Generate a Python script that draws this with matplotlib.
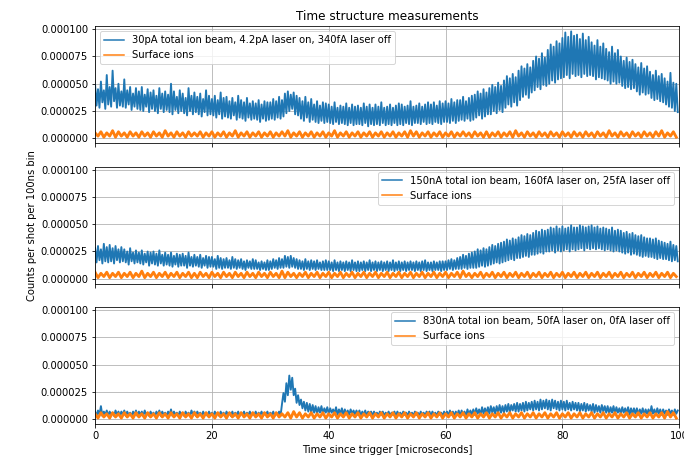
import numpy as np
import matplotlib
matplotlib.use("Agg")
import matplotlib.pyplot as plt
from matplotlib.ticker import FormatStrFormatter

# bin times in microseconds
time_beam = np.arange(400) * 0.25
time_surf = np.arange(200) * 0.5

# counts per shot per bin, in units of 1e-6
top_beam = [
    49, 30, 45, 28, 52, 33, 44, 27, 58, 31,
    47, 29, 62, 34, 46, 28, 50, 30, 43, 29,
    54, 28, 44, 31, 47, 26, 41, 29, 46, 27,
    43, 26, 47, 25, 40, 29, 45, 24, 42, 27,
    44, 25, 39, 23, 46, 27, 41, 24, 43, 26,
    40, 24, 50, 22, 43, 26, 38, 23, 44, 25,
    41, 23, 37, 21, 46, 25, 39, 22, 42, 24,
    38, 22, 41, 20, 36, 24, 44, 21, 39, 22,
    36, 21, 39, 19, 35, 22, 42, 18, 37, 20,
    38, 19, 34, 18, 37, 21, 33, 17, 39, 19,
    35, 18, 33, 16, 37, 19, 32, 17, 34, 18,
    32, 17, 35, 15, 31, 18, 34, 16, 33, 17,
    33, 18, 36, 17, 34, 19, 38, 18, 35, 20,
    41, 23, 43, 25, 40, 27, 42, 22, 39, 21,
    37, 18, 34, 16, 38, 19, 33, 15, 36, 17,
    31, 15, 34, 14, 30, 16, 33, 14, 32, 15,
    31, 14, 29, 13, 33, 15, 28, 13, 30, 14,
    29, 13, 32, 12, 28, 14, 31, 12, 29, 13,
    30, 13, 28, 12, 32, 14, 29, 11, 31, 13,
    28, 12, 31, 13, 29, 12, 33, 14, 28, 12,
    29, 13, 31, 12, 28, 14, 30, 12, 32, 13,
    31, 12, 29, 14, 30, 13, 34, 12, 29, 14,
    30, 14, 32, 13, 29, 15, 31, 13, 33, 14,
    31, 13, 33, 15, 30, 14, 34, 13, 32, 15,
    34, 15, 32, 14, 36, 16, 33, 14, 35, 16,
    35, 17, 38, 16, 34, 18, 37, 16, 39, 17,
    40, 19, 43, 21, 41, 18, 45, 20, 42, 22,
    46, 22, 49, 25, 47, 23, 51, 26, 48, 24,
    53, 28, 57, 31, 55, 29, 59, 33, 56, 30,
    62, 35, 66, 38, 64, 40, 68, 37, 65, 42,
    71, 44, 75, 47, 73, 45, 78, 49, 74, 48,
    81, 50, 86, 53, 84, 51, 89, 54, 87, 55,
    92, 56, 97, 58, 93, 55, 98, 59, 94, 57,
    95, 58, 91, 56, 96, 59, 90, 57, 93, 58,
    88, 57, 85, 54, 90, 56, 84, 55, 87, 54,
    82, 53, 79, 50, 84, 52, 78, 50, 81, 51,
    75, 48, 71, 46, 74, 47, 70, 45, 72, 46,
    68, 43, 65, 40, 69, 42, 64, 40, 66, 41,
    61, 37, 58, 35, 62, 36, 57, 34, 59, 33,
    55, 31, 52, 29, 60, 28, 51, 25, 50, 24,
]
mid_beam = [
    28, 15, 30, 17, 27, 14, 32, 16, 29, 15,
    31, 16, 28, 14, 30, 17, 27, 15, 29, 16,
    27, 15, 25, 13, 28, 16, 24, 14, 26, 15,
    24, 14, 26, 13, 23, 15, 25, 12, 24, 14,
    25, 13, 23, 12, 26, 14, 22, 12, 24, 13,
    22, 12, 24, 11, 21, 13, 23, 11, 22, 12,
    23, 12, 21, 10, 24, 12, 20, 11, 22, 12,
    20, 11, 22, 10, 19, 12, 21, 10, 20, 11,
    20, 11, 18, 9, 21, 10, 19, 9, 18, 10,
    19, 10, 17, 9, 20, 10, 18, 9, 17, 10,
    18, 9, 16, 8, 17, 10, 16, 9, 18, 9,
    17, 9, 15, 8, 16, 9, 15, 8, 17, 8,
    16, 9, 18, 10, 17, 9, 19, 10, 18, 10,
    21, 11, 20, 10, 21, 11, 19, 10, 18, 9,
    17, 9, 16, 8, 18, 9, 16, 8, 17, 9,
    16, 8, 17, 9, 15, 8, 16, 8, 17, 8,
    16, 8, 15, 7, 17, 8, 15, 7, 16, 8,
    15, 7, 16, 8, 15, 7, 17, 8, 15, 7,
    16, 7, 15, 8, 16, 7, 15, 8, 17, 7,
    15, 8, 16, 7, 15, 8, 16, 7, 15, 8,
    16, 7, 15, 8, 17, 7, 15, 8, 16, 7,
    15, 8, 16, 7, 15, 8, 16, 8, 15, 7,
    16, 8, 15, 7, 16, 8, 17, 7, 15, 8,
    15, 7, 16, 8, 15, 8, 16, 7, 16, 8,
    16, 8, 17, 9, 18, 8, 17, 9, 19, 9,
    20, 9, 22, 10, 21, 9, 23, 10, 24, 10,
    25, 10, 27, 11, 26, 12, 28, 11, 27, 12,
    29, 13, 31, 14, 30, 15, 32, 14, 33, 15,
    34, 16, 36, 17, 35, 18, 37, 17, 36, 19,
    38, 19, 40, 20, 39, 21, 41, 20, 40, 22,
    42, 22, 44, 23, 43, 24, 45, 23, 44, 25,
    45, 25, 47, 26, 46, 24, 48, 26, 46, 25,
    48, 26, 46, 27, 47, 25, 49, 27, 47, 26,
    47, 27, 49, 28, 48, 26, 47, 28, 48, 27,
    49, 28, 47, 27, 48, 28, 46, 27, 47, 26,
    46, 27, 45, 26, 47, 25, 44, 26, 45, 25,
    44, 24, 42, 23, 43, 24, 41, 22, 42, 23,
    40, 22, 39, 21, 40, 20, 38, 21, 37, 20,
    37, 20, 36, 19, 37, 18, 35, 19, 34, 18,
    33, 18, 32, 17, 34, 16, 31, 17, 30, 16,
]
bot_beam = [
    7, 3, 8, 4, 12, 3, 7, 4, 8, 3,
    7, 4, 6, 3, 8, 4, 7, 3, 7, 4,
    8, 3, 7, 4, 6, 3, 7, 4, 8, 3,
    7, 4, 7, 3, 8, 4, 6, 3, 7, 4,
    6, 3, 7, 4, 8, 3, 7, 4, 6, 3,
    7, 4, 9, 3, 7, 4, 6, 3, 7, 4,
    6, 3, 7, 4, 6, 3, 8, 4, 7, 3,
    7, 4, 6, 3, 7, 4, 6, 3, 7, 4,
    6, 3, 7, 4, 6, 3, 7, 4, 6, 3,
    7, 4, 6, 3, 7, 3, 6, 4, 7, 3,
    6, 4, 7, 3, 6, 4, 7, 3, 6, 4,
    7, 3, 6, 4, 7, 3, 6, 4, 7, 3,
    6, 4, 7, 3, 6, 4, 7, 3, 14, 24,
    16, 33, 22, 40, 27, 38, 22, 28, 15, 22,
    13, 18, 10, 16, 8, 15, 7, 14, 6, 13,
    6, 12, 5, 11, 6, 12, 5, 10, 6, 11,
    5, 10, 6, 9, 5, 11, 4, 9, 5, 10,
    4, 9, 5, 8, 4, 9, 5, 8, 4, 8,
    4, 8, 3, 7, 4, 8, 3, 7, 4, 7,
    3, 7, 4, 6, 3, 7, 4, 7, 3, 6,
    4, 7, 3, 6, 4, 7, 3, 7, 4, 6,
    3, 7, 4, 6, 3, 7, 4, 6, 3, 7,
    4, 6, 3, 7, 4, 6, 3, 7, 4, 7,
    3, 7, 4, 6, 3, 7, 4, 6, 3, 7,
    4, 7, 3, 8, 4, 7, 3, 7, 4, 8,
    3, 8, 4, 7, 3, 9, 4, 8, 4, 9,
    4, 10, 5, 9, 4, 11, 5, 10, 5, 11,
    5, 12, 6, 11, 5, 12, 6, 13, 6, 12,
    6, 13, 7, 14, 6, 13, 8, 14, 7, 15,
    7, 14, 8, 15, 7, 16, 8, 15, 9, 16,
    8, 17, 9, 16, 8, 18, 9, 17, 10, 18,
    9, 17, 8, 18, 10, 17, 9, 16, 8, 17,
    9, 16, 8, 17, 9, 15, 8, 16, 9, 15,
    8, 15, 7, 14, 8, 15, 7, 14, 8, 13,
    7, 14, 6, 13, 7, 12, 6, 13, 7, 12,
    6, 12, 5, 11, 6, 12, 5, 11, 6, 10,
    5, 11, 6, 10, 5, 11, 4, 10, 5, 10,
    5, 10, 4, 9, 5, 10, 4, 9, 5, 9,
    4, 12, 5, 9, 4, 10, 5, 9, 4, 9,
    5, 8, 4, 9, 5, 8, 4, 9, 5, 8,
]
top_surf = [
    5, 2, 6, 1, 5, 2, 7, 1, 6, 2,
    5, 1, 6, 2, 5, 1, 6, 2, 5, 1,
    6, 2, 5, 1, 7, 2, 5, 1, 6, 2,
    5, 1, 6, 2, 5, 2, 6, 1, 5, 2,
    6, 1, 5, 2, 6, 1, 5, 2, 7, 1,
    5, 2, 6, 1, 5, 2, 6, 1, 5, 2,
    6, 1, 5, 2, 6, 2, 7, 1, 5, 2,
    6, 1, 5, 2, 6, 1, 5, 2, 6, 1,
    5, 2, 7, 1, 5, 2, 6, 1, 5, 2,
    6, 1, 5, 2, 6, 1, 5, 2, 6, 1,
    5, 2, 6, 1, 5, 2, 6, 1, 7, 2,
    6, 1, 5, 2, 6, 1, 5, 2, 6, 1,
    5, 2, 6, 1, 5, 2, 6, 2, 5, 1,
    6, 2, 5, 1, 6, 1, 5, 2, 6, 1,
    5, 2, 6, 1, 7, 2, 5, 1, 6, 2,
    5, 1, 6, 2, 5, 1, 6, 2, 5, 1,
    6, 2, 5, 1, 6, 2, 5, 1, 6, 2,
    5, 1, 6, 2, 5, 1, 7, 2, 5, 1,
    6, 2, 5, 1, 6, 2, 5, 1, 6, 2,
    5, 1, 6, 2, 7, 1, 5, 2, 6, 1,
]
mid_surf = [
    6, 1, 5, 2, 6, 1, 5, 2, 6, 1,
    5, 2, 6, 1, 5, 2, 7, 1, 5, 2,
    6, 1, 5, 2, 6, 1, 5, 2, 6, 1,
    5, 2, 6, 1, 5, 1, 6, 2, 5, 1,
    6, 2, 5, 1, 6, 2, 5, 1, 6, 2,
    5, 1, 6, 2, 5, 1, 6, 2, 5, 1,
    6, 2, 5, 1, 7, 1, 6, 2, 5, 1,
    5, 2, 6, 1, 5, 2, 6, 1, 5, 2,
    6, 1, 5, 2, 6, 1, 5, 2, 6, 1,
    5, 2, 6, 1, 5, 2, 6, 1, 5, 2,
    6, 1, 5, 2, 6, 1, 5, 2, 6, 1,
    5, 2, 6, 1, 5, 2, 6, 1, 5, 2,
    6, 1, 5, 2, 6, 1, 7, 2, 5, 1,
    5, 2, 6, 1, 5, 2, 6, 1, 5, 2,
    6, 1, 5, 2, 6, 1, 5, 2, 6, 1,
    5, 2, 6, 1, 5, 2, 6, 1, 5, 2,
    6, 1, 5, 2, 6, 1, 5, 2, 6, 1,
    5, 2, 6, 1, 5, 2, 6, 1, 5, 2,
    6, 1, 5, 2, 6, 1, 5, 2, 6, 1,
    5, 2, 6, 1, 5, 2, 6, 1, 5, 2,
]
bot_surf = [
    5, 1, 6, 2, 5, 1, 6, 2, 5, 1,
    6, 2, 5, 1, 6, 2, 5, 1, 6, 2,
    5, 1, 6, 2, 5, 1, 6, 2, 5, 1,
    6, 2, 5, 1, 6, 2, 5, 1, 6, 2,
    5, 1, 6, 2, 5, 1, 6, 2, 5, 1,
    6, 2, 5, 1, 6, 2, 5, 1, 6, 2,
    5, 1, 6, 2, 5, 2, 6, 1, 7, 2,
    6, 1, 5, 2, 6, 1, 5, 2, 6, 1,
    5, 2, 6, 1, 5, 2, 6, 1, 5, 2,
    6, 1, 5, 2, 6, 1, 5, 2, 6, 1,
    5, 2, 6, 1, 5, 2, 6, 1, 5, 2,
    6, 1, 5, 2, 6, 1, 5, 2, 6, 1,
    5, 2, 6, 1, 5, 2, 6, 1, 5, 2,
    6, 1, 5, 2, 6, 1, 5, 2, 6, 1,
    5, 2, 6, 1, 5, 2, 6, 1, 5, 2,
    6, 1, 5, 2, 6, 1, 5, 2, 6, 1,
    5, 2, 6, 1, 5, 2, 6, 1, 5, 2,
    6, 1, 5, 2, 6, 1, 5, 2, 6, 1,
    5, 2, 6, 1, 5, 2, 6, 1, 5, 2,
    6, 1, 5, 2, 6, 1, 7, 2, 6, 1,
]

beam_labels = [
    "30pA total ion beam, 4.2pA laser on, 340fA laser off",
    "150nA total ion beam, 160fA laser on, 25fA laser off",
    "830nA total ion beam, 50fA laser on, 0fA laser off",
]
beams = [top_beam, mid_beam, bot_beam]
surfs = [top_surf, mid_surf, bot_surf]
legend_locs = ["upper left", "upper right", "upper right"]

fig, axs = plt.subplots(3, 1, sharex=True, figsize=(9.5, 6.375), dpi=72)
fig.subplots_adjust(left=0.139, right=0.993, top=0.943, bottom=0.076, hspace=0.2)

for ax, beam, surf, lab, loc in zip(axs, beams, surfs, beam_labels, legend_locs):
    ax.plot(time_beam, np.array(beam) * 1e-6, lw=1.9, label=lab)
    ax.plot(time_surf, np.array(surf) * 1e-6, lw=2.8, label="Surface ions")
    ax.set_xlim(0, 100)
    ax.set_ylim(-4.5e-6, 1.028e-4)
    ax.set_yticks([0, 2.5e-5, 5e-5, 7.5e-5, 1e-4])
    ax.yaxis.set_major_formatter(FormatStrFormatter("%.6f"))
    ax.grid(True)
    leg = ax.legend(loc=loc)
    for l in leg.get_lines():
        l.set_linewidth(1.5)

axs[0].set_title("Time structure measurements")
axs[1].set_ylabel("Counts per shot per 100ns bin")
axs[2].set_xlabel("Time since trigger [microseconds]")

plt.savefig("out.png", dpi=72)
